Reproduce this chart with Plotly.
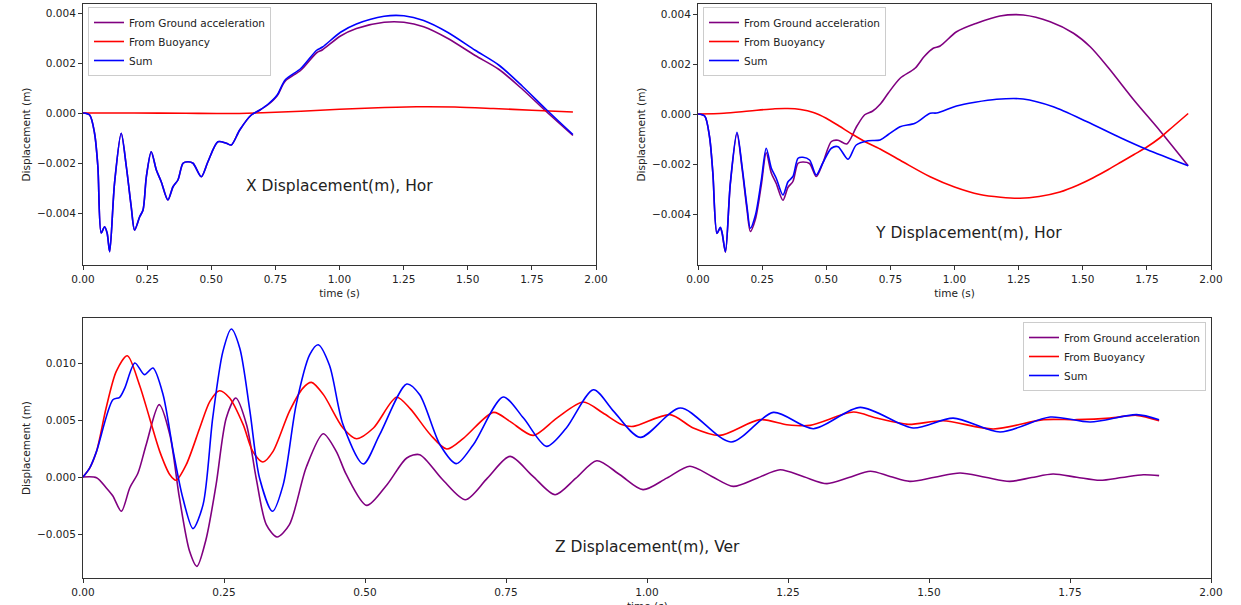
import plotly.graph_objects as go

# ---------------- data (displacements in mm -> converted to m below) ----------------
SERIES_NAMES = ["From Ground acceleration", "From Buoyancy", "Sum"]
COLORS = ["#800080", "#ff0000", "#0000ff"]

# X displacement (horizontal)
x_ground_t = [0, 0.026, 0.045, 0.058, 0.071, 0.084, 0.094, 0.104, 0.123, 0.149, 0.169, 0.188, 0.201,
              0.221, 0.234, 0.247, 0.266, 0.286, 0.305, 0.331, 0.351, 0.370, 0.390, 0.409, 0.429,
              0.461, 0.487, 0.526, 0.559, 0.578, 0.611, 0.656, 0.689, 0.721, 0.757, 0.788, 0.849,
              0.911, 0.934, 1.004, 1.066, 1.174, 1.251, 1.328, 1.421, 1.529, 1.622, 1.714, 1.807, 1.910]
x_ground_v = [0, -0.08, -0.81, -2.15, -4.8, -4.55, -4.8, -5.55, -2.8, -0.81, -2.15, -3.75, -4.68,
              -4.15, -3.88, -2.55, -1.55, -2.28, -2.75, -3.48, -2.95, -2.68, -2.01, -1.95, -2.01,
              -2.55, -1.95, -1.15, -1.21, -1.28, -0.68, -0.08, 0.11, 0.33, 0.69, 1.27, 1.71,
              2.41, 2.53, 3.08, 3.38, 3.63, 3.63, 3.45, 2.99, 2.30, 1.74, 0.94, 0.05, -0.90]
x_buoy_t = [0, 0.2, 0.4, 0.55, 0.7, 0.85, 1.0, 1.15, 1.3, 1.45, 1.6, 1.75, 1.91]
x_buoy_v = [0, 0, -0.01, -0.02, 0.01, 0.07, 0.15, 0.21, 0.25, 0.24, 0.18, 0.11, 0.04]
x_sum_t = x_ground_t
x_sum_v = [0, -0.08, -0.81, -2.15, -4.8, -4.55, -4.8, -5.55, -2.8, -0.81, -2.15, -3.75, -4.68,
           -4.15, -3.88, -2.55, -1.55, -2.28, -2.75, -3.48, -2.95, -2.68, -2.01, -1.95, -2.01,
           -2.55, -1.95, -1.15, -1.21, -1.28, -0.68, -0.08, 0.12, 0.35, 0.72, 1.32, 1.78,
           2.51, 2.64, 3.23, 3.56, 3.87, 3.89, 3.70, 3.23, 2.51, 1.91, 1.06, 0.13, -0.86]

# Y displacement (horizontal)
y_ground_t = [0, 0.026, 0.045, 0.058, 0.074, 0.087, 0.094, 0.107, 0.126, 0.152, 0.172, 0.191, 0.204,
              0.224, 0.247, 0.266, 0.286, 0.305, 0.331, 0.351, 0.370, 0.390, 0.409, 0.435, 0.461,
              0.487, 0.520, 0.546, 0.580, 0.619, 0.650, 0.680, 0.711, 0.742, 0.788, 0.846, 0.882,
              0.917, 0.944, 1.008, 1.086, 1.177, 1.268, 1.373, 1.464, 1.530, 1.600, 1.700, 1.800, 1.911]
y_ground_v = [0, -0.08, -0.92, -2.38, -4.78, -4.55, -4.77, -5.53, -2.8, -0.78, -2.2, -3.82, -4.7,
              -4.2, -2.82, -1.55, -2.37, -2.78, -3.45, -2.93, -2.7, -1.97, -1.92, -1.98, -2.5,
              -1.95, -1.1, -1.05, -1.2, -0.49, -0.03, 0.11, 0.40, 0.84, 1.43, 1.83, 2.30,
              2.63, 2.72, 3.29, 3.63, 3.92, 3.96, 3.69, 3.23, 2.68, 1.85, 0.55, -0.66, -2.07]
y_buoy_t = [0, 0.1, 0.2, 0.3, 0.35, 0.4, 0.45, 0.5, 0.55, 0.6, 0.65, 0.71, 0.8, 0.905, 1.0,
            1.099, 1.18, 1.255, 1.33, 1.411, 1.48, 1.541, 1.6, 1.65, 1.7, 1.75, 1.8, 1.85, 1.911]
y_buoy_v = [0, 0.03, 0.12, 0.21, 0.22, 0.18, 0.06, -0.17, -0.48, -0.8, -1.1, -1.4, -1.92, -2.51, -2.92,
            -3.22, -3.33, -3.37, -3.3, -3.12, -2.85, -2.55, -2.22, -1.92, -1.62, -1.32, -0.96, -0.52, 0.02]
y_sum_t = [0, 0.026, 0.045, 0.058, 0.074, 0.087, 0.094, 0.107, 0.126, 0.152, 0.172, 0.191, 0.204,
           0.224, 0.247, 0.266, 0.286, 0.305, 0.331, 0.351, 0.370, 0.390, 0.409, 0.435, 0.461,
           0.487, 0.520, 0.546, 0.585, 0.617, 0.663, 0.710, 0.742, 0.788, 0.846, 0.905, 0.930,
           1.008, 1.080, 1.164, 1.268, 1.385, 1.515, 1.647, 1.750, 1.911]
y_sum_v = [0, -0.08, -0.91, -2.37, -4.77, -4.53, -4.75, -5.51, -2.77, -0.73, -2.11, -3.7, -4.57,
           -4.04, -2.64, -1.37, -2.17, -2.57, -3.24, -2.71, -2.5, -1.77, -1.73, -1.84, -2.44,
           -1.95, -1.37, -1.31, -1.81, -1.24, -1.07, -1.04, -0.82, -0.51, -0.37, 0.03, 0.04,
           0.32, 0.47, 0.59, 0.60, 0.29, -0.30, -0.95, -1.42, -2.07]

# Z displacement (vertical)
z_ground_t = [0, 0.024, 0.041, 0.053, 0.068, 0.083, 0.0975, 0.112, 0.135, 0.154, 0.171, 0.189, 0.202,
              0.218, 0.236, 0.254, 0.271, 0.290, 0.307, 0.325, 0.344, 0.366, 0.396, 0.426, 0.449,
              0.467, 0.503, 0.539, 0.574, 0.597, 0.637, 0.678, 0.717, 0.757, 0.797, 0.837, 0.874,
              0.911, 0.952, 0.993, 1.035, 1.076, 1.115, 1.153, 1.195, 1.236, 1.278, 1.319, 1.358,
              1.396, 1.431, 1.466, 1.510, 1.555, 1.600, 1.643, 1.682, 1.720, 1.762, 1.803, 1.842,
              1.880, 1.908]
z_ground_v = [0, -0.06, -0.94, -1.67, -3.01, -0.94, 0.35, 2.83, 6.35, 3.71, -1.84, -6.52, -7.84,
              -5.5, -0.67, 5.18, 6.93, 4.59, -0.09, -4.18, -5.26, -4.18, 0.88, 3.8, 2.25,
              0.2, -2.49, -0.67, 1.67, 1.96, -0.2, -1.99, -0.1, 1.81, 0.1, -1.55, -0.1,
              1.43, 0.2, -1.11, -0.1, 0.94, 0.05, -0.82, -0.1, 0.64, 0.02, -0.58, -0.05,
              0.5, 0.05, -0.38, -0.02, 0.35, -0.02, -0.38, -0.05, 0.26, -0.02, -0.29, -0.05,
              0.20, 0.12]
z_buoy_t = [0, 0.012, 0.024, 0.041, 0.059, 0.0786, 0.100, 0.118, 0.136, 0.154, 0.165, 0.183, 0.207,
            0.225, 0.242, 0.260, 0.284, 0.301, 0.319, 0.337, 0.366, 0.390, 0.405, 0.426, 0.461,
            0.485, 0.515, 0.556, 0.580, 0.616, 0.645, 0.675, 0.728, 0.757, 0.798, 0.840, 0.887,
            0.922, 0.955, 0.976, 1.041, 1.082, 1.129, 1.200, 1.248, 1.289, 1.366, 1.407, 1.463,
            1.525, 1.614, 1.703, 1.762, 1.821, 1.868, 1.908]
z_buoy_v = [0, 0.8, 2.25, 6.05, 9.27, 10.64, 8.1, 5.18, 2.25, 0.2, -0.28, 1.08, 4.3,
            6.64, 7.57, 6.93, 4.59, 2.25, 1.32, 2.25, 5.76, 7.8, 8.3, 7.25, 4.3,
            3.36, 4.3, 6.99, 6.0, 3.71, 2.46, 3.42, 5.67, 4.88, 3.65, 5.17, 6.58,
            5.61, 4.6, 4.44, 5.47, 4.3, 3.65, 5.03, 4.59, 4.53, 5.7, 5.17, 4.62,
            4.94, 4.21, 5.03, 5.03, 5.17, 5.41, 4.94]
z_sum_t = [0, 0.012, 0.024, 0.053, 0.065, 0.074, 0.092, 0.109, 0.124, 0.142, 0.160, 0.177, 0.195,
           0.213, 0.230, 0.248, 0.263, 0.278, 0.296, 0.313, 0.336, 0.355, 0.378, 0.402, 0.417,
           0.437, 0.461, 0.497, 0.526, 0.574, 0.597, 0.633, 0.662, 0.692, 0.745, 0.781, 0.822,
           0.857, 0.905, 0.941, 0.988, 1.059, 1.149, 1.224, 1.295, 1.378, 1.472, 1.543, 1.626,
           1.715, 1.786, 1.868, 1.908]
z_sum_v = [0, 0.8, 2.25, 6.78, 6.99, 7.8, 10.0, 8.98, 9.56, 7.22, 2.25, -1.84, -4.53,
           -2.4, 5.18, 11.0, 12.98, 11.3, 5.76, -0.09, -3.01, -0.67, 6.35, 10.73, 11.6,
           9.8, 4.6, 1.14, 3.71, 8.16, 7.22, 2.83, 1.17, 2.83, 7.02, 5.17, 2.69,
           4.3, 7.66, 5.76, 3.48, 6.05, 3.07, 5.67, 4.24, 6.11, 4.3, 5.17, 3.95,
           5.26, 4.82, 5.47, 5.03]

X_TICKS = [0.0, 0.25, 0.5, 0.75, 1.0, 1.25, 1.5, 1.75, 2.0]
Y_TICKS_HOR = [-0.004, -0.002, 0.0, 0.002, 0.004]
Y_TICKS_VER = [-0.005, 0.0, 0.005, 0.010]
PANEL_TITLES = ["X Displacement(m), Hor", "Y Displacement(m), Hor", "Z Displacement(m), Ver"]
X_TITLE = "time (s)"
Y_TITLE = "Displacement (m)"

# ---------------- figure ----------------
W, H = 1241, 605
def px_x(p): return p / W
def px_y(p): return 1 - p / H

panels = [
    dict(data=[(x_ground_t, x_ground_v), (x_buoy_t, x_buoy_v), (x_sum_t, x_sum_v)],
         xd=[px_x(83), px_x(596)], yd=[px_y(265), px_y(4)], yr=[-0.00608, 0.00436], tv=Y_TICKS_HOR,
         legend=dict(x=px_x(88), y=px_y(7), xanchor="left"), ann=(1.0, -0.0029), xt=True),
    dict(data=[(y_ground_t, y_ground_v), (y_buoy_t, y_buoy_v), (y_sum_t, y_sum_v)],
         xd=[px_x(698), px_x(1211)], yd=[px_y(265), px_y(4)], yr=[-0.00604, 0.00440], tv=Y_TICKS_HOR,
         legend=dict(x=px_x(703), y=px_y(7), xanchor="left"), ann=(1.053, -0.00476), xt=True),
    dict(data=[(z_ground_t, z_ground_v), (z_buoy_t, z_buoy_v), (z_sum_t, z_sum_v)],
         xd=[px_x(83), px_x(1211)], yd=[px_y(578), px_y(318)], yr=[-0.00886, 0.01395], tv=Y_TICKS_VER,
         legend=dict(x=px_x(1206), y=px_y(322), xanchor="right"), ann=(1.0, -0.00614), xt=False),
]

fig = go.Figure()
layout = dict(
    width=W, height=H, margin=dict(l=0, r=0, t=0, b=0, autoexpand=False),
    paper_bgcolor="white", plot_bgcolor="white",
    font=dict(family="DejaVu Sans", size=10, color="#222"),
    annotations=[],
)

for i, p in enumerate(panels):
    k = "" if i == 0 else str(i + 1)
    lg = "legend" if i == 0 else f"legend{i + 1}"
    for j, (t, v) in enumerate(p["data"]):
        fig.add_trace(go.Scatter(
            x=t, y=[val / 1000 for val in v], mode="lines",
            name=SERIES_NAMES[j],
            line=dict(color=COLORS[j], width=1.6, shape="spline", smoothing=0.8),
            xaxis="x" + k, yaxis="y" + k, legend=lg,
        ))
    axcommon = dict(showline=True, mirror=True, linecolor="#333", linewidth=1,
                    ticks="outside", ticklen=4, tickcolor="#333", showgrid=False,
                    zeroline=False, automargin=False, tickfont=dict(size=10.5, color="#222"))
    layout["xaxis" + k] = dict(domain=p["xd"], range=[0, 2.0], tickvals=X_TICKS,
                               tickformat=".2f", anchor="y" + k,
                               title=dict(text=X_TITLE if p["xt"] else "", standoff=6,
                                          font=dict(size=10.5)), **axcommon)
    layout["yaxis" + k] = dict(domain=p["yd"], range=p["yr"], tickvals=p["tv"],
                               tickformat=".3f", anchor="x" + k,
                               title=dict(text=Y_TITLE, standoff=4,
                                          font=dict(size=10.5)), **axcommon)
    layout[lg] = dict(x=p["legend"]["x"], y=p["legend"]["y"], xanchor=p["legend"]["xanchor"],
                      yanchor="top", bgcolor="rgba(255,255,255,0.85)", bordercolor="#cccccc",
                      borderwidth=1, font=dict(size=10.5, color="#222"),
                      itemwidth=30, tracegroupgap=0)
    layout["annotations"].append(dict(
        x=p["ann"][0], y=p["ann"][1], xref="x" + k, yref="y" + k, text=PANEL_TITLES[i],
        showarrow=False, font=dict(size=15.5, color="#222"), xanchor="center", yanchor="middle"))

# bottom panel x-axis title (sits at the page edge, as in the reference)
layout["annotations"].append(dict(
    x=(px_x(83) + px_x(1211)) / 2, y=px_y(598), xref="paper", yref="paper", text=X_TITLE,
    showarrow=False, font=dict(size=10.5, color="#222"), xanchor="center", yanchor="top"))

fig.update_layout(**layout)
fig.write_html("out.html")
